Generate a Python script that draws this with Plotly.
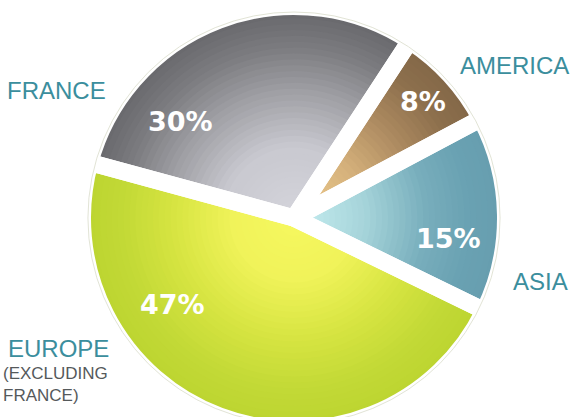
import plotly.graph_objects as go

# ---- data ----
regions = ["EUROPE", "ASIA", "AMERICA", "FRANCE"]
shares = [47, 15, 8, 30]
outside_labels = ["EUROPE", "ASIA", "AMERICA", "FRANCE"]
europe_note = "(EXCLUDING<br>FRANCE)"

# ---- style ----
W, H = 572, 430
CX, CY = 294, 218          # pie centre in px
R_VIS = 203                # visible radius
GAP = 17                   # white separator width
R_PATH = R_VIS + GAP / 2
ROT = 116
N_LAYERS = 36

stops = {
    "EUROPE": [(0.0, "#f6f85f"), (0.3, "#f0f35a"), (0.6, "#d6e441"), (0.85, "#c2d936"), (1.0, "#bdd531")],
    "ASIA": [(0.0, "#c6eef0"), (0.35, "#a6d4da"), (0.65, "#78aebc"), (0.85, "#6aa2b3"), (1.0, "#679eaf")],
    "AMERICA": [(0.0, "#efcc8e"), (0.35, "#d6b27c"), (0.65, "#a9875e"), (0.85, "#8d704d"), (1.0, "#846848")],
    "FRANCE": [(0.0, "#d4d4db"), (0.35, "#c9c9d0"), (0.62, "#a0a0a5"), (0.85, "#7a7a7e"), (1.0, "#6a6a6e")],
}


def hex2rgb(h):
    h = h.lstrip("#")
    return tuple(int(h[i:i + 2], 16) for i in (0, 2, 4))


def color_at(name, t):
    s = stops[name]
    for (t0, c0), (t1, c1) in zip(s[:-1], s[1:]):
        if t0 <= t <= t1:
            f = (t - t0) / (t1 - t0) if t1 > t0 else 0
            a, b = hex2rgb(c0), hex2rgb(c1)
            return "rgb(%d,%d,%d)" % tuple(round(a[k] + (b[k] - a[k]) * f) for k in range(3))
    return s[-1][1]


def dom(r):
    return dict(x=[(CX - r) / W, (CX + r) / W], y=[1 - (CY + r) / H, 1 - (CY - r) / H])


fig = go.Figure()

# gradient layers (largest first)
for i in range(N_LAYERS):
    r = R_PATH * (1 - i / N_LAYERS)
    t = min(1.0, max(0.0, (r - R_PATH / (2 * N_LAYERS)) / R_VIS))
    fig.add_trace(go.Pie(
        labels=regions, values=shares, sort=False, direction="counterclockwise",
        rotation=ROT, domain=dom(r), textinfo="none", hoverinfo="skip",
        marker=dict(colors=[color_at(n, t) for n in regions], line=dict(width=0)),
        showlegend=False,
    ))

# white separators
fig.add_trace(go.Pie(
    labels=regions, values=shares, sort=False, direction="counterclockwise",
    rotation=ROT, domain=dom(R_PATH), textinfo="none", hoverinfo="skip",
    marker=dict(colors=["rgba(0,0,0,0)"] * 4, line=dict(color="white", width=GAP)),
    showlegend=False,
))

# faint outer outline
fig.add_trace(go.Pie(
    labels=["all"], values=[sum(shares)], sort=False, domain=dom(R_VIS + 3),
    textinfo="none", hoverinfo="skip",
    marker=dict(colors=["rgba(0,0,0,0)"], line=dict(color="#e2e4d6", width=1)),
    showlegend=False,
))

pct_pos = {"EUROPE": (172, 304), "ASIA": (448, 238), "AMERICA": (423, 101), "FRANCE": (180, 122)}
for name, v in zip(regions, shares):
    px, py = pct_pos[name]
    fig.add_annotation(
        x=px / W, y=1 - py / H, xref="paper", yref="paper", showarrow=False,
        text=f"{v}%", xanchor="center", yanchor="middle",
        font=dict(family="DejaVu Sans", size=27, color="white", weight="bold"),
    )

lab_pos = {"EUROPE": (6, 348), "ASIA": (511, 281), "AMERICA": (458, 65), "FRANCE": (5, 91)}
for name, lab in zip(regions, outside_labels):
    px, py = lab_pos[name]
    fig.add_annotation(
        x=px / W, y=1 - py / H, xref="paper", yref="paper", showarrow=False,
        text=lab, xanchor="left", yanchor="middle",
        font=dict(family="Liberation Sans, Arial", size=24, color="#3b8e9d"),
    )

fig.add_annotation(
    x=1 / W, y=1 - 384 / H, xref="paper", yref="paper", showarrow=False,
    text=europe_note, xanchor="left", yanchor="middle", align="left",
    font=dict(family="Liberation Sans, Arial", size=17, color="#55595b"),
)

fig.update_layout(
    width=W, height=H, margin=dict(l=0, r=0, t=0, b=0),
    paper_bgcolor="white", plot_bgcolor="white", showlegend=False,
)

fig.write_html(
    "out.html",
    config={"displayModeBar": False},
    post_script="document.documentElement.style.overflow='hidden';"
                "document.body.style.overflow='hidden';document.body.style.margin='0';",
)
